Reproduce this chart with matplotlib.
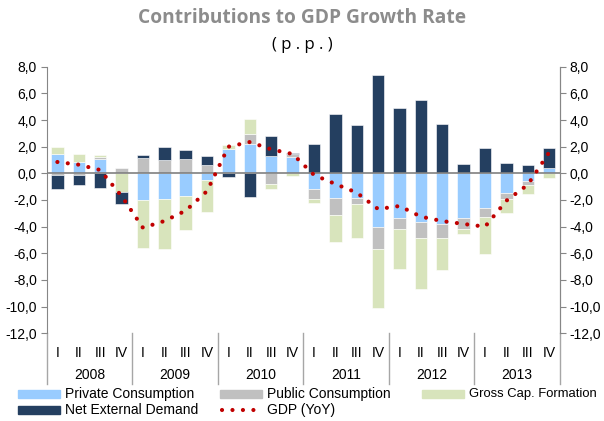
import numpy as np
import matplotlib
matplotlib.use("Agg")
import matplotlib.pyplot as plt
from matplotlib.patches import Rectangle
from matplotlib.lines import Line2D

# quarterly contributions (p.p.), 2008 Q1 .. 2013 Q4
years = ["2008", "2009", "2010", "2011", "2012", "2013"]
quarters = ["I", "II", "III", "IV"]
private = [1.43, 0.88, 1.08, 0.0, -2.0, -1.93, -1.73, -0.5,
           1.8, 2.18, 1.33, 1.2, -1.2, -1.83, -1.83, -4.0,
           -3.33, -3.63, -3.8, -3.33, -2.58, -1.5, -0.6, 0.4]
public = [-0.1, -0.1, 0.12, 0.42, 1.18, 0.98, 1.08, 0.6,
          0.0, 0.75, -0.8, 0.25, -0.72, -1.3, -0.48, -1.68,
          -0.85, -1.2, -1.03, -0.85, -0.68, -0.42, -0.28, 0.0]
gross_cap = [0.58, 0.58, 0.15, -1.38, -3.58, -3.78, -2.55, -2.38,
             0.35, 1.15, -0.38, -0.18, -0.28, -2.0, -2.52, -4.42,
             -3.0, -3.88, -2.45, -0.35, -2.8, -1.03, -0.68, -0.33]
net_ext = [-1.05, -0.8, -1.08, -0.92, 0.17, 1.02, 0.65, 0.72,
           -0.25, -1.75, 1.5, 0.05, 2.18, 4.45, 3.6, 7.38,
           4.93, 5.5, 3.7, 0.68, 1.93, 0.78, 0.6, 1.53]
gdp = [0.85, 0.65, 0.25, -1.7, -4.08, -3.58, -2.8, -1.33,
       2.0, 2.35, 1.8, 1.45, -0.12, -0.8, -1.45, -2.68,
       -2.45, -3.25, -3.58, -3.8, -4.0, -2.05, -0.85, 1.58]

series = [("Private Consumption", private, "#99CCFF"),
          ("Public Consumption", public, "#C0C0C0"),
          ("Gross Cap. Formation", gross_cap, "#D8E4BC"),
          ("Net External Demand", net_ext, "#243F60")]

fig = plt.figure(figsize=(6.04, 4.21), dpi=100)
ax = fig.add_axes([0.0773, 0.2083, 0.8497, 0.6333])

x = np.arange(len(gdp))
pos = np.zeros(len(x))
neg = np.zeros(len(x))
for name, vals, col in series:
    v = np.array(vals)
    bottom = np.where(v >= 0, pos, neg)
    ax.bar(x, v, 0.58, bottom=bottom, color=col, edgecolor="white", linewidth=0.4, zorder=2)
    pos += np.where(v >= 0, v, 0)
    neg += np.where(v < 0, v, 0)

ax.axhline(0, color="#808080", lw=1.2, zorder=3)
ax.plot(x, gdp, color="#C00000", lw=3, linestyle=(0, (0.01, 2.5)),
        dash_capstyle="round", zorder=4)

ax.set_xlim(-0.5, len(x) - 0.5)
ax.set_ylim(-12, 8)
yt = np.arange(-12, 9, 2)
ax.set_yticks(yt)
ax.set_yticklabels([f"{t:.1f}".replace(".", ",") for t in yt])
ax.set_xticks(x)
ax.set_xticklabels(quarters * len(years))
ax.tick_params(axis="x", length=0, pad=9, labelsize=10)
ax.tick_params(axis="y", length=4, color="#868686", labelsize=10, pad=3)
for s in ["top", "bottom"]:
    ax.spines[s].set_visible(False)
for s in ["left", "right"]:
    ax.spines[s].set_color("#868686")

ax2 = ax.twinx()
ax2.set_ylim(-12, 8)
ax2.set_yticks(yt)
ax2.set_yticklabels([f"{t:.1f}".replace(".", ",") for t in yt])
ax2.tick_params(axis="y", length=4, color="#868686", labelsize=10, pad=3)
for s in ["top", "bottom", "left"]:
    ax2.spines[s].set_visible(False)
ax2.spines["right"].set_color("#868686")

for lbl in ax.get_xticklabels() + ax.get_yticklabels() + ax2.get_yticklabels():
    lbl.set_fontfamily("Liberation Sans")

# year separators and labels
tr = ax.get_xaxis_transform()
for i in range(len(years) + 1):
    ax.plot([i * 4 - 0.5] * 2, [0, -0.19], color="#A6A6A6", lw=1,
            transform=tr, clip_on=False)
for i, yr in enumerate(years):
    ax.text(i * 4 + 1.5, -0.155, yr, transform=tr, ha="center", va="center",
            fontsize=10, family="Liberation Sans")

fig.text(0.5, 0.958, "Contributions to GDP Growth Rate", ha="center", va="center",
         fontsize=13.8, fontweight="bold", color="#8C8C8C", family="Open Sans")
fig.text(0.5, 0.893, "( p . p . )", ha="center", va="center", fontsize=12,
         family="Open Sans")

# legend
W, H = 604.0, 421.0
def patch(px, py, col):
    fig.patches.append(Rectangle((px / W, (H - py - 4) / H), 42 / W, 8 / H,
                                 color=col, transform=fig.transFigure))
def label(px, py, txt, size=10):
    fig.text(px / W, 1 - py / H, txt, va="center", fontsize=size, family="Liberation Sans")

places = [(18, 394), (220, 394), (422, 394), (18, 410)]
for (name, vals, col), (px, py) in zip(series, places):
    patch(px, py, col)
    label(px + 47, py, name, 9.4 if px == 422 else 10)
fig.add_artist(Line2D([222 / W, 258 / W], [1 - 410 / H] * 2, color="#C00000", lw=3,
                      linestyle=(0, (0.01, 2.5)), dash_capstyle="round",
                      transform=fig.transFigure))
label(267, 410, "GDP (YoY)")

fig.savefig("out.png", dpi=100)
